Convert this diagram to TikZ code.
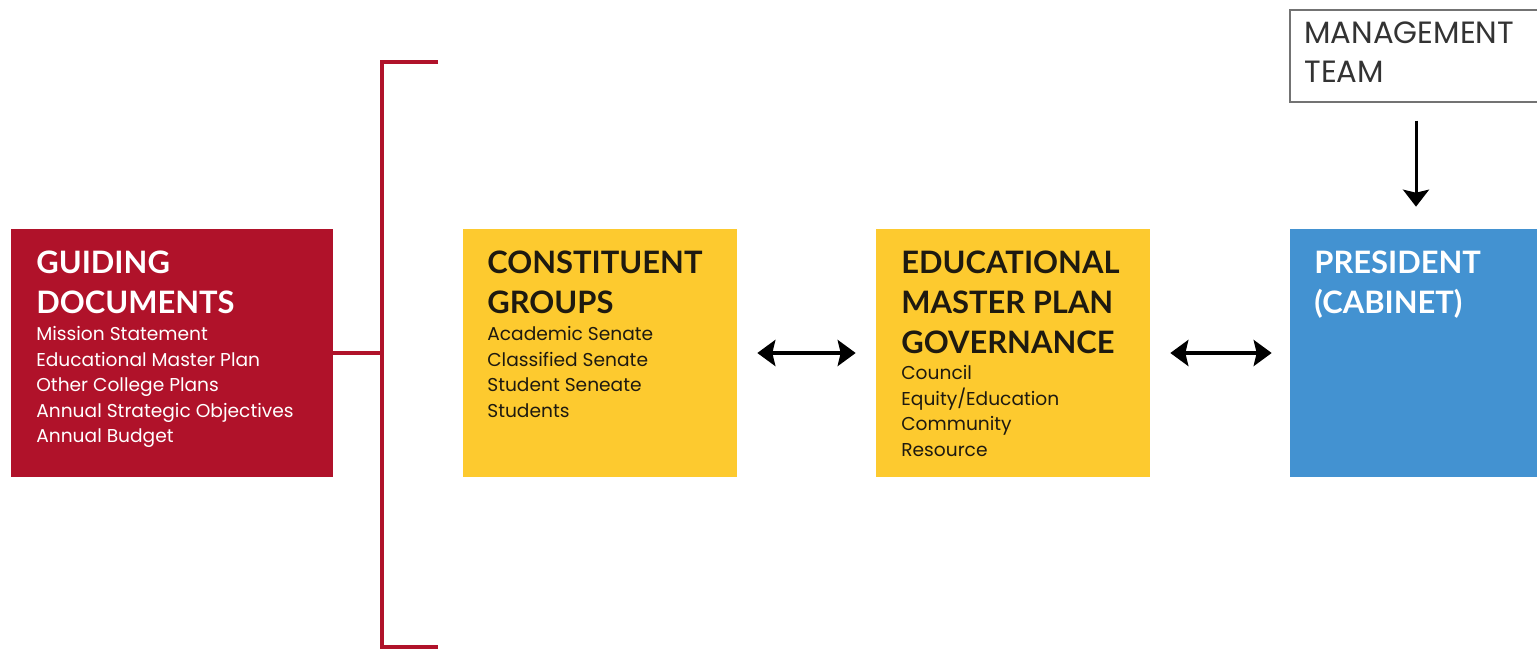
\documentclass[tikz,border=0pt]{standalone}
\usepackage{fontspec}
\setmainfont{Lato}
\newfontfamily\popfont{Poppins}
\usetikzlibrary{arrows.meta}
\definecolor{gred}{HTML}{B0122A}
\definecolor{gyel}{HTML}{FDCA2F}
\definecolor{gblu}{HTML}{4392D1}
\definecolor{gtxt}{HTML}{1E1A10}
\tikzset{
  box/.style={draw=none, inner sep=0pt, minimum height=4.96cm},
  head/.style={anchor=north west, inner sep=0pt, align=left, font=\fontsize{17.6}{22.7}\selectfont\bfseries},
  sub/.style={anchor=north west, inner sep=0pt, align=left, font=\popfont\fontsize{10.6}{14.5}\selectfont},
  dbl/.style={line width=2.2pt, {Stealth[length=0.36cm,width=0.52cm,inset=0.06cm]}-{Stealth[length=0.36cm,width=0.52cm,inset=0.06cm]}},
  down/.style={line width=1.7pt, -{Stealth[length=0.34cm,width=0.52cm,inset=0.06cm]}},
  brk/.style={draw=gred, line width=2.3pt}
}
\begin{document}
\begin{tikzpicture}[x=0.02cm,y=-0.02cm]
\useasboundingbox (0,0) rectangle (1537,649);
\clip (0,0) rectangle (1537,649);
\fill[white] (0,0) rectangle (1537,649);
% boxes
\node[box, fill=gred, minimum width=6.44cm] (guide) at (172,353) {};
\node[box, fill=gyel, minimum width=5.48cm] (cons) at (600,353) {};
\node[box, fill=gyel, minimum width=5.48cm] (emp) at (1013,353) {};
\node[box, fill=gblu, minimum width=5.04cm] (pres) at (1416,353) {};
\node[draw=black!55, line width=0.8pt, fill=white, inner sep=0pt, minimum width=5.04cm, minimum height=1.84cm] (mgmt) at (1416,56) {};
% texts
\node[head, text=white] (guideh) at (36,251) {GUIDING\\DOCUMENTS};
\node[sub, text=white] (guides) at ([yshift=-0.24cm]guideh.south west) {Mission Statement\\Educational Master Plan\\Other College Plans\\Annual Strategic Objectives\\Annual Budget};
\node[head, text=gtxt] (consh) at (487,251) {CONSTITUENT\\GROUPS};
\node[sub, text=gtxt] (conss) at ([yshift=-0.24cm]consh.south west) {Academic Senate\\Classified Senate\\Student Seneate\\Students};
\node[head, text=gtxt] (emph) at (901,251) {EDUCATIONAL\\MASTER PLAN\\GOVERNANCE};
\node[sub, text=gtxt] (emps) at ([yshift=-0.22cm]emph.south west) {Council\\Equity/Education\\Community\\Resource};
\node[head, text=white] (presh) at (1314,251) {PRESIDENT\\(CABINET)};
\node[anchor=north west, inner sep=0pt, align=left, text=black!80, font=\popfont\fontsize{17.5}{22.7}\selectfont] (mgmth) at (1304,21) {MANAGEMENT\\TEAM};
% bracket
\coordinate (jn) at (382,353);
\coordinate (btop) at (438,62);
\coordinate (bbot) at (438,647);
\draw[brk] (guide.east) -- (jn);
\draw[brk] (btop) -| (jn) |- (bbot);
% arrows
\draw[dbl, shorten <=0.4cm, shorten >=0.4cm] (cons.east) -- (emp.west);
\draw[dbl, shorten <=0.4cm, shorten >=0.36cm] (emp.east) -- (pres.west);
\draw[down, shorten <=0.36cm, shorten >=0.44cm] (mgmt.south) -- (pres.north);
\end{tikzpicture}
\end{document}
